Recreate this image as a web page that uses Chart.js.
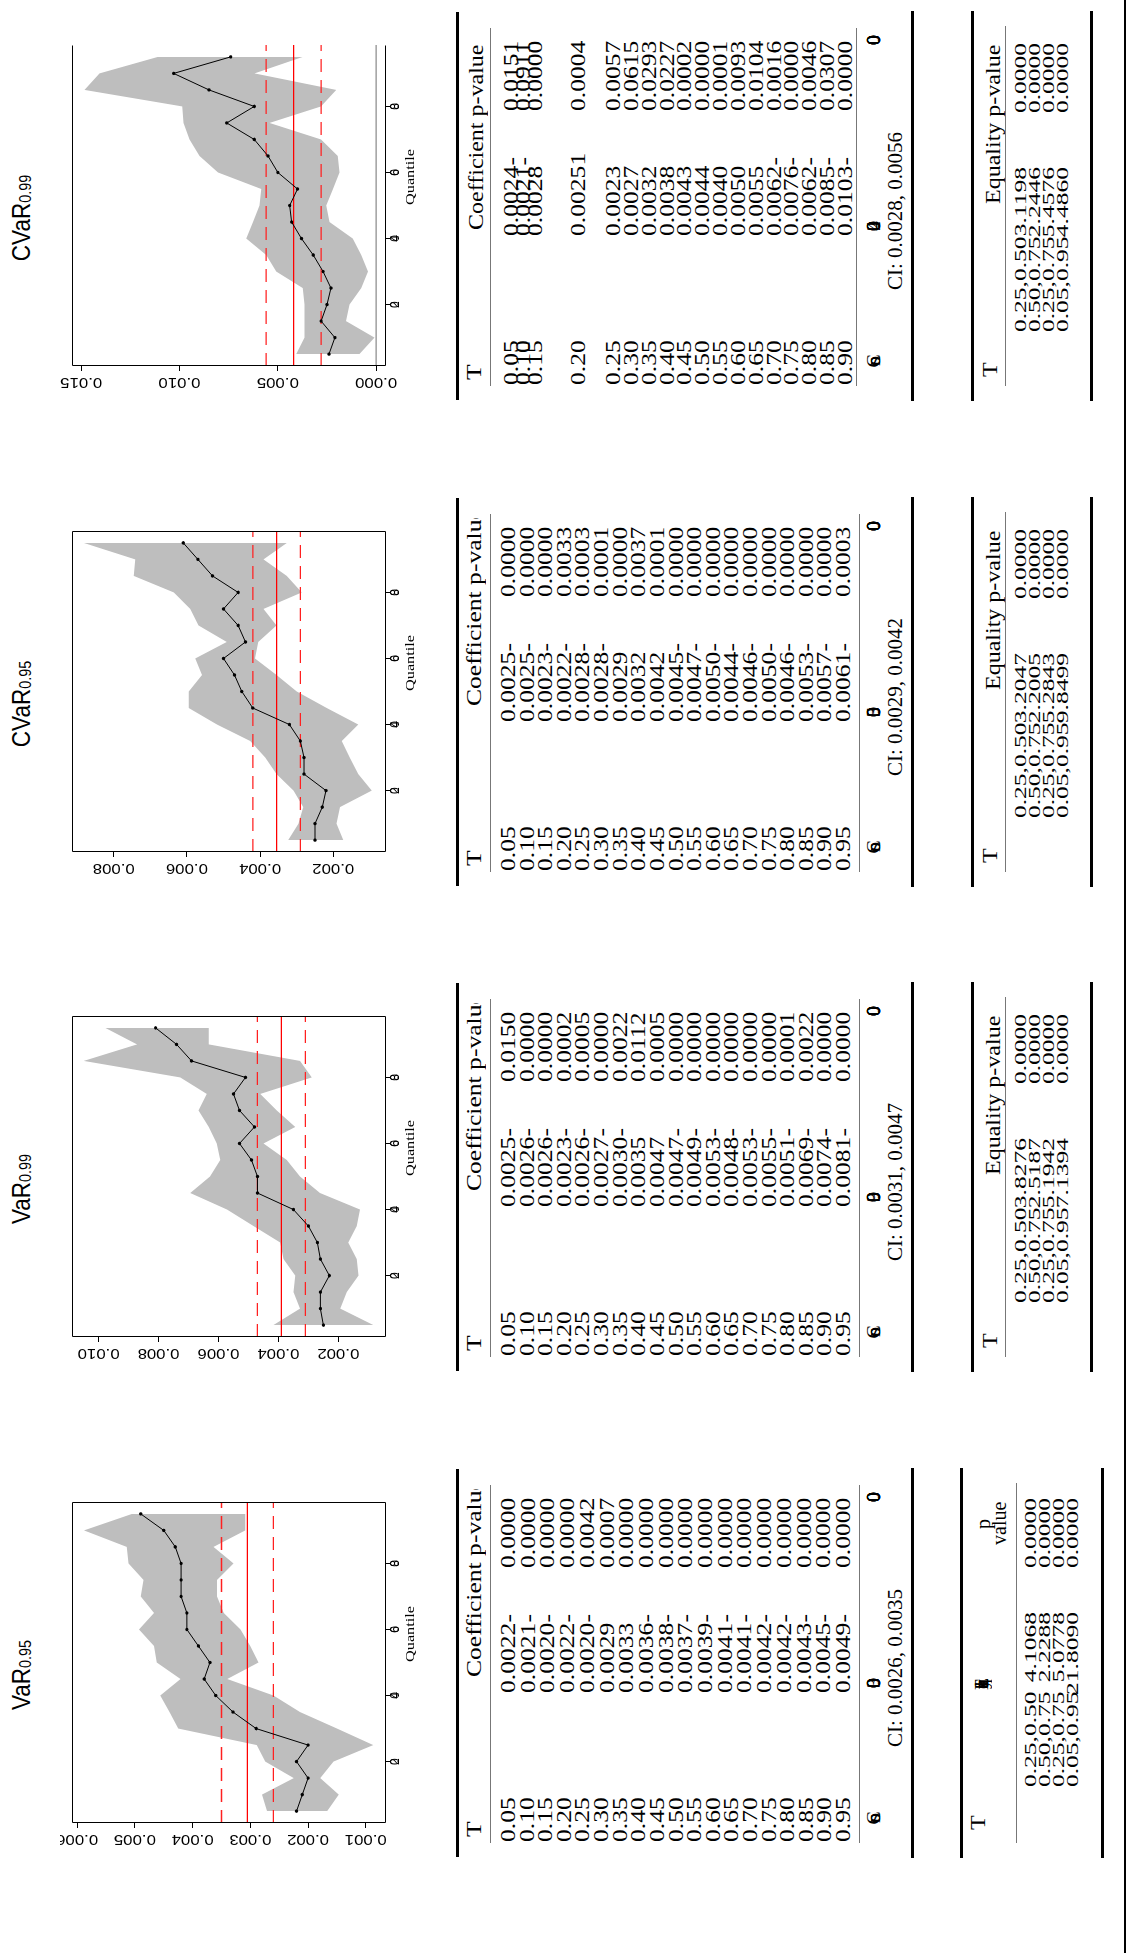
<!DOCTYPE html>
<html>
<head>
<meta charset="utf-8">
<script src="https://cdn.jsdelivr.net/npm/chart.js@4.4.0/dist/chart.umd.min.js"></script>
<style>
    html, body { margin: 0; padding: 0; background: #fff; }
    body { width: 1128px; height: 1953px; position: relative; overflow: hidden; }
    /* the page is laid out upright (1953 x 1128) and then turned a quarter turn */
    #page {
        position: absolute; left: 0; top: 0;
        width: 1953px; height: 1128px;
        transform-origin: 0 0;
        transform: translate(0, 1953px) rotate(-90deg);
    }
    .t { position: absolute; white-space: nowrap; color: #000; transform-origin: 0 50%; }
    .rule { position: absolute; }
</style>
</head>
<body>
<div id="page"></div>
<script>
/* =============================================================================
   DATA
   ============================================================================= */

const quantiles = [0.05, 0.10, 0.15, 0.20, 0.25, 0.30, 0.35, 0.40, 0.45, 0.50,
                   0.55, 0.60, 0.65, 0.70, 0.75, 0.80, 0.85, 0.90, 0.95];
const quantileTicks = [0.2, 0.4, 0.6, 0.8];

// VaR 0.95
const var95Coef  = [0.0022, 0.0021, 0.0020, 0.0022, 0.0020, 0.0029, 0.0033, 0.0036, 0.0038, 0.0037,
                    0.0039, 0.0041, 0.0041, 0.0042, 0.0042, 0.0042, 0.0043, 0.0045, 0.0049];
const var95Upper = [0.00271, 0.00280, 0.00225, 0.00274, 0.00289, 0.00425, 0.00440, 0.00456, 0.00421, 0.00462,
                    0.00467, 0.00493, 0.00467, 0.00490, 0.00485, 0.00511, 0.00514, 0.00588, 0.00505];
const var95Lower = [0.00167, 0.00147, 0.00179, 0.00156, 0.00087, 0.00150, 0.00214, 0.00260, 0.00340, 0.00286,
                    0.00300, 0.00317, 0.00346, 0.00358, 0.00358, 0.00329, 0.00364, 0.00309, 0.00309];
const var95Ref   = [0.00305, 0.0026, 0.0035];   // estimate, CI low, CI high
const var95Ticks = [0.001, 0.002, 0.003, 0.004, 0.005, 0.006];

// VaR 0.99
const var99Coef  = [0.0025, 0.0026, 0.0026, 0.0023, 0.0026, 0.0027, 0.0030, 0.0035, 0.0047, 0.0047,
                    0.0049, 0.0053, 0.0048, 0.0053, 0.0055, 0.0051, 0.0069, 0.0074, 0.0081];
const var99Upper = [0.00417, 0.00328, 0.00350, 0.00344, 0.00383, 0.00394, 0.00483, 0.00572, 0.00694, 0.00628,
                    0.00594, 0.00606, 0.00633, 0.00667, 0.00639, 0.00728, 0.01050, 0.00872, 0.00978];
const var99Lower = [0.00083, 0.00194, 0.00172, 0.00133, 0.00139, 0.00167, 0.00139, 0.00128, 0.00261, 0.00328,
                    0.00372, 0.00450, 0.00344, 0.00406, 0.00461, 0.00289, 0.00328, 0.00633, 0.00633];
const var99Ref   = [0.0039, 0.0031, 0.0047];
const var99Ticks = [0.002, 0.004, 0.006, 0.008, 0.010];

// CVaR 0.95
const cvar95Coef  = [0.0025, 0.0025, 0.0023, 0.0022, 0.0028, 0.0028, 0.0029, 0.0032, 0.0042, 0.0045,
                     0.0047, 0.0050, 0.0044, 0.0046, 0.0050, 0.0046, 0.0053, 0.0057, 0.0061];
const cvar95Upper = [0.00323, 0.00295, 0.00282, 0.00309, 0.00355, 0.00386, 0.00427, 0.00518, 0.00595, 0.00595,
                     0.00559, 0.00577, 0.00491, 0.00568, 0.00591, 0.00636, 0.00745, 0.00741, 0.00882];
const cvar95Lower = [0.00173, 0.00191, 0.00182, 0.00095, 0.00132, 0.00155, 0.00177, 0.00132, 0.00218, 0.00300,
                     0.00355, 0.00414, 0.00405, 0.00355, 0.00391, 0.00286, 0.00327, 0.00391, 0.00327];
const cvar95Ref   = [0.00355, 0.0029, 0.0042];
const cvar95Ticks = [0.002, 0.004, 0.006, 0.008];

// CVaR 0.99
const cvar99Coef  = [0.0024, 0.0021, 0.0028, 0.0025, 0.0023, 0.0027, 0.0032, 0.0038, 0.0043, 0.0044,
                     0.0040, 0.0050, 0.0055, 0.0062, 0.0076, 0.0062, 0.0085, 0.0103, 0.0074];
const cvar99Upper = [0.00407, 0.00364, 0.00364, 0.00364, 0.00373, 0.00508, 0.00559, 0.00661, 0.00627, 0.00593,
                     0.00585, 0.00805, 0.00898, 0.00949, 0.00980, 0.00986, 0.01483, 0.01407, 0.01110];
const cvar99Lower = [0.00085, 0.00008, 0.00153, 0.00136, 0.00076, 0.00042, 0.00076, 0.00119, 0.00237, 0.00254,
                     0.00220, 0.00186, 0.00195, 0.00280, 0.00542, 0.00280, 0.00203, 0.00619, 0.00373];
const cvar99Ref   = [0.0042, 0.0028, 0.0056];
const cvar99Ticks = [0.000, 0.005, 0.010, 0.015];

// table texts
const tAll  = quantiles.map(q => q.toFixed(2));
const tTo90 = tAll.slice(0, 18);

const var95TabCoef = ['0.0022-', '0.0021-', '0.0020-', '0.0022-', '0.0020-', '0.0029', '0.0033', '0.0036-', '0.0038-',
                      '0.0037-', '0.0039-', '0.0041-', '0.0041-', '0.0042-', '0.0042-', '0.0043-', '0.0045-', '0.0049-'];
const var95TabP    = ['0.0000', '0.0000', '0.0000', '0.0000', '0.0042', '0.0007', '0.0000', '0.0000', '0.0000',
                      '0.0000', '0.0000', '0.0000', '0.0000', '0.0000', '0.0000', '0.0000', '0.0000', '0.0000'];
const var99TabCoef = ['0.0025-', '0.0026-', '0.0026-', '0.0023-', '0.0026-', '0.0027-', '0.0030-', '0.0035', '0.0047', '0.0047-',
                      '0.0049-', '0.0053-', '0.0048-', '0.0053-', '0.0055-', '0.0051-', '0.0069-', '0.0074-', '0.0081-'];
const var99TabP    = ['0.0150', '0.0000', '0.0000', '0.0002', '0.0005', '0.0000', '0.0022', '0.0112', '0.0005', '0.0000',
                      '0.0000', '0.0000', '0.0000', '0.0000', '0.0000', '0.0001', '0.0022', '0.0000', '0.0000'];
const cvar95TabCoef = ['0.0025-', '0.0025-', '0.0023-', '0.0022-', '0.0028-', '0.0028-', '0.0029', '0.0032', '0.0042', '0.0045-',
                       '0.0047-', '0.0050-', '0.0044-', '0.0046-', '0.0050-', '0.0046-', '0.0053-', '0.0057-', '0.0061-'];
const cvar95TabP    = ['0.0000', '0.0000', '0.0000', '0.0033', '0.0003', '0.0001', '0.0000', '0.0037', '0.0001', '0.0000',
                       '0.0000', '0.0000', '0.0000', '0.0000', '0.0000', '0.0000', '0.0000', '0.0000', '0.0003'];
const cvar99TabCoef = ['0.0024-', '0.0021-', '0.0028', '0.00251', '0.0023', '0.0027', '0.0032', '0.0038', '0.0043',
                       '0.0044', '0.0040', '0.0050', '0.0055', '0.0062-', '0.0076-', '0.0062-', '0.0085-', '0.0103-'];
const cvar99TabP    = ['0.0151', '0.0911', '0.0000', '0.0004', '0.0057', '0.0615', '0.0293', '0.0227', '0.0002',
                       '0.0000', '0.0001', '0.0093', '0.0104', '0.0016', '0.0000', '0.0046', '0.0307', '0.0000'];

const eqPairs  = ['0.25,0.50', '0.50,0.75', '0.25,0.75', '0.05,0.95'];
const var95Eq  = ['4.1068', '2.2288', '5.0778', '21.8090'];
const var99Eq  = ['3.8276', '2.5187', '5.1942', '7.1394'];
const cvar95Eq = ['3.2047', '2.2005', '5.2843', '9.8499'];
const cvar99Eq = ['3.1198', '2.2446', '5.4576', '4.4860'];
const eqP      = ['0.0000', '0.0000', '0.0000', '0.0000'];

/* =============================================================================
   LAYOUT (upright page coordinates: u = across, v = down)
   ============================================================================= */

const SERIF = '"Liberation Serif", "Times New Roman", serif';
const SANS = '"Liberation Sans", Arial, sans-serif';
const X_MIN = 0.014, X_MAX = 0.986;

const rowsV = (n, first, last) => Array.from({ length: n }, (_, i) => first + i * (last - first) / (n - 1));
const rows19 = rowsV(19, 508, 843);
const rowsCvar99 = [511, 523, 535, 578].concat(rowsV(14, 613, 845));

const panels = [
    { u: 0, name: 'VaR', sub: '0.95', coef: var95Coef, upper: var95Upper, lower: var95Lower, ref: var95Ref,
      yTicks: var95Ticks, yMin: 0.00065, yMax: 0.00609, zero: false, right: true,
      tT: tAll, tCoef: var95TabCoef, tP: var95TabP, rowT: rows19, rowC: rowsV(18, 508, 843),
      ci: 'CI: 0.0026, 0.0035', blob: '0.0030', eq: var95Eq, firstEq: true },
    { u: 486, name: 'VaR', sub: '0.99', coef: var99Coef, upper: var99Upper, lower: var99Lower, ref: var99Ref,
      yTicks: var99Ticks, yMin: 0.00041, yMax: 0.01089, zero: false, right: true,
      tT: tAll, tCoef: var99TabCoef, tP: var99TabP, rowT: rows19, rowC: rows19,
      ci: 'CI: 0.0031, 0.0047', blob: '0.0039', eq: var99Eq },
    { u: 971, name: 'CVaR', sub: '0.95', coef: cvar95Coef, upper: cvar95Upper, lower: cvar95Lower, ref: cvar95Ref,
      yTicks: cvar95Ticks, yMin: 0.00056, yMax: 0.00914, zero: false, right: true,
      tT: tAll, tCoef: cvar95TabCoef, tP: cvar95TabP, rowT: rows19, rowC: rows19,
      ci: 'CI: 0.0029, 0.0042', blob: '0.0035', eq: cvar95Eq },
    { u: 1457, name: 'CVaR', sub: '0.99', coef: cvar99Coef, upper: cvar99Upper, lower: cvar99Lower, ref: cvar99Ref,
      yTicks: cvar99Ticks, yMin: -0.0005, yMax: 0.01547, zero: true, right: false,
      tT: tTo90, tCoef: cvar99TabCoef, tP: cvar99TabP, rowT: rowsCvar99, rowC: rowsCvar99,
      ci: 'CI: 0.0028, 0.0056', blob: '0.0042', eq: cvar99Eq, fullHeader: true }
];

const page = document.getElementById('page');

function put(str, u, v, size, o = {}) {
    const el = document.createElement('div');
    el.className = 't';
    el.textContent = str;
    const lh = Math.round(size * 1.2);
    el.style.top = (v - lh / 2) + 'px';
    el.style.font = `${size}px ${o.family || SERIF}`;
    el.style.lineHeight = lh + 'px';
    if (o.right) {
        el.style.left = (u - 300) + 'px';
        el.style.width = '300px';
        el.style.textAlign = 'right';
        el.style.transformOrigin = '100% 50%';
    } else if (o.center) {
        el.style.left = (u - 20) + 'px';
        el.style.width = '40px';
        el.style.textAlign = 'center';
        el.style.transformOrigin = '50% 50%';
    } else {
        el.style.left = u + 'px';
    }
    if (o.sx) el.style.transform = `scaleX(${o.sx})`;
    (o.parent || page).appendChild(el);
    return el;
}

// glyphs printed on top of each other, as in the source page
function stack(str, u, v, size) {
    for (const ch of str) put(ch, u, v, size, { center: true, sx: 1.1 });
}

function rule(u1, u2, v, h, color = '#000') {
    const el = document.createElement('div');
    el.className = 'rule';
    el.style.cssText = `left:${u1}px;top:${v - h / 2}px;width:${u2 - u1}px;height:${h}px;background:${color};`;
    page.appendChild(el);
}

/* =============================================================================
   CHARTS
   ============================================================================= */

const makeFramePlugin = (p) => ({
    id: 'frame',
    afterDraw(chart) {
        const { ctx, chartArea: a, scales: { x, y } } = chart;
        ctx.save();
        ctx.strokeStyle = '#000';
        ctx.lineWidth = 1;
        ctx.beginPath();
        const L = Math.round(a.left) + 0.5, R = Math.round(a.right) - 0.5;
        const T = Math.round(a.top) + 0.5, B = Math.round(a.bottom) - 0.5;
        ctx.moveTo(L, T); ctx.lineTo(R, T);
        ctx.moveTo(L, T); ctx.lineTo(L, B);
        ctx.moveTo(L, B); ctx.lineTo(R, B);
        if (p.right) { ctx.moveTo(R, T); ctx.lineTo(R, B); }
        ctx.stroke();

        // value labels run along the axis, as R draws them
        ctx.fillStyle = '#000';
        ctx.textAlign = 'center';
        ctx.textBaseline = 'middle';
        ctx.font = `14px ${SANS}`;
        p.yTicks.forEach(val => {
            const py = y.getPixelForValue(val);
            ctx.save();
            ctx.translate(a.left - 16, py);
            ctx.rotate(-Math.PI / 2);
            ctx.scale(1.2, 1);
            ctx.fillText(val.toFixed(3), 0, 0);
            ctx.restore();
        });

        // quantile labels: characters overprinted
        ctx.font = `12px ${SANS}`;
        quantileTicks.forEach(q => {
            const px = x.getPixelForValue(q);
            for (const ch of q.toFixed(1)) ctx.fillText(ch, px, a.bottom + 10);
        });

        ctx.font = `13px ${SERIF}`;
        ctx.save();
        ctx.translate(a.left + 189, a.bottom + 25);
        ctx.scale(1.25, 1);
        ctx.fillText('Quantile', 0, 0);
        ctx.restore();
        ctx.restore();
    }
});

function makeChart(p, canvas) {
    const pts = arr => arr.map((val, i) => ({ x: quantiles[i], y: val }));
    const flat = val => [{ x: X_MIN, y: val }, { x: X_MAX, y: val }];
    const clear = 'rgba(0,0,0,0)';

    const datasets = [
        { data: pts(p.upper), fill: '+1', backgroundColor: '#bebebe', borderColor: clear, borderWidth: 0, pointRadius: 0, order: 5 },
        { data: pts(p.lower), fill: false, borderColor: clear, borderWidth: 0, pointRadius: 0, order: 5 },
        { data: flat(p.ref[0]), fill: false, borderColor: '#ff0000', borderWidth: 1.3, pointRadius: 0, order: 3 },
        { data: flat(p.ref[1]), fill: false, borderColor: '#ff2020', borderWidth: 1.3, borderDash: [13, 8], pointRadius: 0, order: 3 },
        { data: flat(p.ref[2]), fill: false, borderColor: '#ff2020', borderWidth: 1.3, borderDash: [13, 8], pointRadius: 0, order: 3 },
        { data: pts(p.coef), fill: false, borderColor: '#000', borderWidth: 1, pointRadius: 1.7,
          pointBackgroundColor: '#000', pointBorderWidth: 0, order: 1 }
    ];
    if (p.zero) {
        datasets.push({ data: flat(0), fill: false, borderColor: '#8c8c8c', borderWidth: 1.3, pointRadius: 0, order: 4 });
    }

    return new Chart(canvas, {
        type: 'line',
        data: { datasets },
        options: {
            responsive: false,
            animation: false,
            devicePixelRatio: 1,
            layout: { padding: { top: 12, right: 19, left: 0, bottom: 0 } },
            elements: { line: { tension: 0 } },
            scales: {
                x: {
                    type: 'linear', min: X_MIN, max: X_MAX,
                    afterBuildTicks: s => { s.ticks = quantileTicks.map(value => ({ value })); },
                    ticks: { display: false },
                    grid: { drawOnChartArea: false, drawTicks: true, tickLength: 4, color: '#000' },
                    border: { display: false },
                    afterFit: s => { s.height = 44; }
                },
                y: {
                    type: 'linear', min: p.yMin, max: p.yMax,
                    afterBuildTicks: s => { s.ticks = p.yTicks.map(value => ({ value })); },
                    ticks: { display: false },
                    grid: { drawOnChartArea: false, drawTicks: true, tickLength: 5, color: '#000' },
                    border: { display: false },
                    afterFit: s => { s.width = 70; }
                }
            },
            plugins: {
                legend: { display: false },
                tooltip: { enabled: false }
            }
        },
        plugins: [makeFramePlugin(p)]
    });
}

/* =============================================================================
   BUILD THE PAGE
   ============================================================================= */

panels.forEach(p => {
    const U = p.u;

    // title
    const title = document.createElement('div');
    title.style.cssText = `position:absolute;left:${U + 178}px;top:6px;width:200px;text-align:center;` +
        `font:25px ${SANS};line-height:30px;white-space:nowrap;transform:scaleX(0.9);`;
    title.append(p.name);
    const sub = document.createElement('span');
    sub.textContent = p.sub;
    sub.style.cssText = 'font-size:16px;vertical-align:-1px;';
    title.append(sub);
    page.appendChild(title);

    // chart
    const wrap = document.createElement('div');
    wrap.style.cssText = `position:absolute;left:${U + 60}px;top:60px;width:410px;height:370px;`;
    const cv = document.createElement('canvas');
    cv.width = 410; cv.height = 370;
    wrap.appendChild(cv);
    page.appendChild(wrap);
    makeChart(p, cv);

    // coefficient table
    const SX = 1.28;
    rule(U + 96, U + 484, 457, 3);
    put('T', U + 116, 474, 20, { sx: SX });
    if (p.fullHeader) {
        put('Coefficient p-value', U + 266, 476, 20, { sx: 1.2 });
    } else {
        const clip = document.createElement('div');
        clip.style.cssText = `position:absolute;left:${U}px;top:444px;width:464px;height:60px;overflow:hidden;`;
        page.appendChild(clip);
        put('Coefficient p-value', 276, 30, 20, { sx: SX, parent: clip });
    }
    rule(U + 110, U + 468, 490, 1, '#777');
    p.tT.forEach((s, i) => put(s, U + 111, p.rowT[i], 20, { sx: SX }));
    p.tCoef.forEach((s, i) => put(s, U + 260, p.rowC[i], 20, { sx: SX }));
    p.tP.forEach((s, i) => put(s, U + 385, p.rowC[i], 20, { sx: SX }));
    rule(U + 110, U + 468, p.fullHeader ? 856 : 859, 1, '#777');
    stack('Cons', U + 135, 874, 18);
    stack(p.blob, U + 270, 874, 18);
    stack('0.0000', U + 456, 874, 18);
    put(p.ci, U + 206, 895, 21);
    rule(U + 95, U + 485, 912, 3);

    // equality table
    const EQ_SIZE = 17, EQ_SX = 1.5;
    if (p.firstEq) {
        rule(U + 95, U + 485, 961, 3);
        put('T', U + 123, 978, 20, { sx: 1.2 });
        stack('Equality', U + 269, 982, 18);
        put('p', U + 424, 983, 20);
        put('value', U + 408, 999, 20);
        rule(U + 110, U + 470, 1016, 1, '#777');
        const rv = [1031, 1045, 1059, 1073];
        eqPairs.forEach((s, i) => put(s, U + 166, rv[i], EQ_SIZE, { sx: EQ_SX }));
        p.eq.forEach((s, i) => put(s, U + 341, rv[i], EQ_SIZE, { sx: EQ_SX, right: true }));
        eqP.forEach((s, i) => put(s, U + 385, rv[i], EQ_SIZE, { sx: EQ_SX }));
        rule(U + 95, U + 485, 1102, 3);
    } else {
        rule(U + 95, U + 485, 972, 3);
        put('T', U + 119, 990, 20, { sx: 1.2 });
        put('Equality p-value', U + 292, 993, 20, { sx: 1.2 });
        rule(U + 110, U + 470, 1005, 1, '#777');
        const rv = [1021, 1035, 1049, 1063];
        eqPairs.forEach((s, i) => put(s, U + 164, rv[i], EQ_SIZE, { sx: EQ_SX }));
        p.eq.forEach((s, i) => put(s, U + 329, rv[i], EQ_SIZE, { sx: EQ_SX, right: true }));
        eqP.forEach((s, i) => put(s, U + 383, rv[i], EQ_SIZE, { sx: EQ_SX }));
        rule(U + 95, U + 485, 1091, 3);
    }
});

// page edge line
rule(0, 1953, 1125, 2);
</script>
</body>
</html>
